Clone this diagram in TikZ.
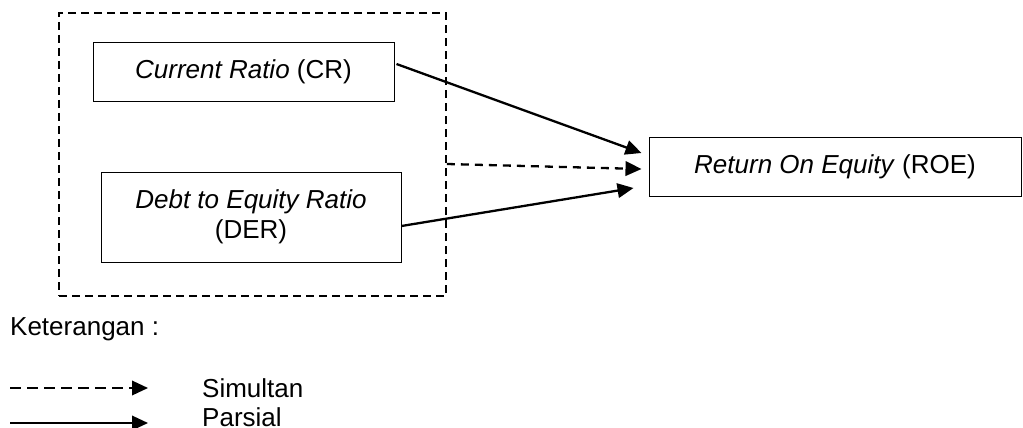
\documentclass[tikz,border=0pt]{standalone}
\usepackage{fontspec}
\setmainfont{Liberation Sans}
\usetikzlibrary{arrows.meta}

\tikzset{
  varbox/.style={draw=black, line width=1pt, inner sep=0pt, align=center,
    font=\fontsize{26}{30}\selectfont},
  groupbox/.style={draw=black, line width=1.8pt, dash pattern=on 8pt off 5pt, inner sep=0pt},
  tip/.style={-{Triangle[length=16pt,width=14.5pt]}},
  parsial/.style={line width=2.3pt, tip},
  simultan/.style={line width=2.3pt, dash pattern=on 8pt off 6pt, tip},
  legsimultan/.style={line width=2pt, dash pattern=on 11pt off 6pt, tip},
  legtext/.style={inner sep=0pt, font=\fontsize{26}{30}\selectfont},
}

\begin{document}
\begin{tikzpicture}[x=1pt, y=-1pt]
  \useasboundingbox (0,0) rectangle (1023,428);

  % independent variables, grouped in a dashed frame
  \node[groupbox, minimum width=387pt, minimum height=283pt] (grp) at (252.5,154.5) {};
  \node[varbox, minimum width=301pt, minimum height=58pt] (CR) at (243.5,72)
    {\textit{Current Ratio} (CR)};
  \node[varbox, minimum width=300pt, minimum height=90pt] (DER) at (251,217)
    {\textit{Debt to Equity Ratio}\\(DER)};

  % dependent variable
  \node[varbox, minimum width=372pt, minimum height=59pt] (ROE) at (835,166.5)
    {\textit{Return On Equity} (ROE)};

  % effects
  \draw[parsial] ([xshift=2pt,yshift=8pt]CR.east) -- ([xshift=-7pt,yshift=13.5pt]ROE.west);
  \draw[simultan] ([yshift=-9.5pt]grp.east) -- ([xshift=-7pt,yshift=-2.5pt]ROE.west);
  \draw[parsial] ([yshift=-9pt]DER.east) -- ([xshift=-15pt,yshift=-21.5pt]ROE.west);

  % legend
  \node[legtext, anchor=base west] (ket) at (10,335) {Keterangan :};
  \coordinate (s1) at (10,388);
  \coordinate (s2) at (148,388);
  \coordinate (p1) at (10,423);
  \coordinate (p2) at (148,423);
  \draw[legsimultan] (s1) -- (s2);
  \draw[parsial, line width=2pt] (p1) -- (p2);
  \node[legtext, anchor=base west] (lsim) at (202,397) {Simultan};
  \node[legtext, anchor=base west] (lpar) at (202,426) {Parsial};
\end{tikzpicture}
\end{document}
